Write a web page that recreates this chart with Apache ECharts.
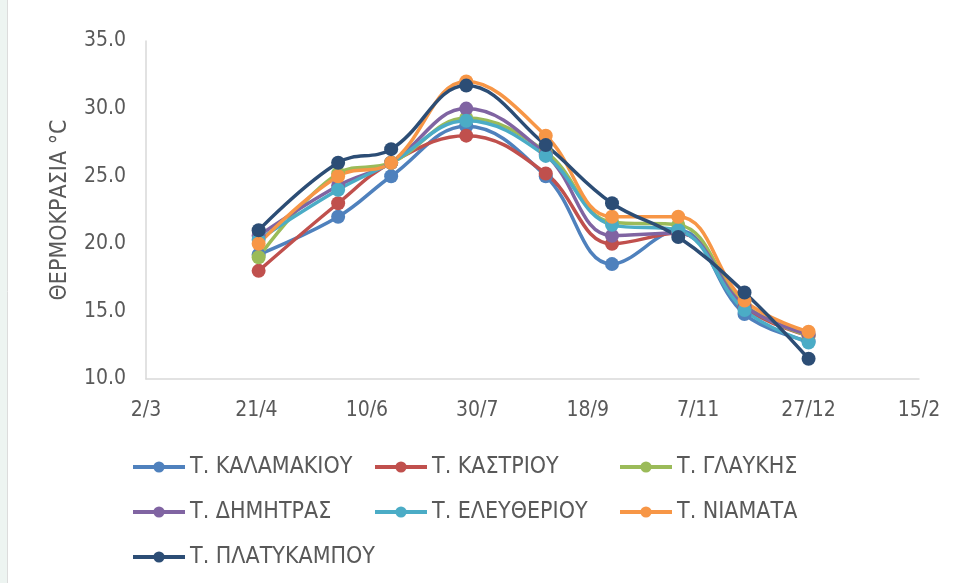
<!DOCTYPE html>
<html>
<head>
<meta charset="utf-8">
<script src="https://cdn.jsdelivr.net/npm/echarts@6/dist/echarts.min.js"></script>
<style>
    html, body { margin: 0; padding: 0; background: #fff; }
    #chart { width: 955px; height: 583px; }
</style>
</head>
<body>
<div id="chart"></div>
<script>
// Chart data
const originDate = '2019-03-02';
const sampleDates = ['2019-04-22', '2019-05-28', '2019-06-21', '2019-07-25', '2019-08-30',
    '2019-09-29', '2019-10-29', '2019-11-28', '2019-12-27'];
const tickLabels = ['2/3', '21/4', '10/6', '30/7', '18/9', '7/11', '27/12', '15/2'];

const seriesNames = ['Τ. ΚΑΛΑΜΑΚΙΟΥ', 'Τ. ΚΑΣΤΡΙΟΥ', 'Τ. ΓΛΑΥΚΗΣ', 'Τ. ΔΗΜΗΤΡΑΣ',
    'Τ. ΕΛΕΥΘΕΡΙΟΥ', 'Τ. ΝΙΑΜΑΤΑ', 'Τ. ΠΛΑΤΥΚΑΜΠΟΥ'];
const kalamakiou = [19.2, 22.0, 25.0, 28.7, 25.0, 18.5, 21.0, 14.8, 12.8];
const kastriou = [18.0, 23.0, 26.0, 28.0, 25.2, 20.0, 20.8, 15.3, 13.2];
const glaykis = [19.0, 25.2, 26.0, 29.3, 26.8, 21.6, 21.4, 15.5, 13.2];
const dimitras = [20.6, 24.3, 26.0, 30.0, 26.6, 20.6, 20.8, 15.4, 13.3];
const eleytheriou = [20.3, 24.0, 26.0, 29.1, 26.5, 21.4, 21.0, 15.1, 12.7];
const niamata = [20.0, 25.0, 26.0, 32.0, 28.0, 22.0, 22.0, 15.8, 13.5];
const platykampou = [21.0, 26.0, 27.0, 31.7, 27.3, 23.0, 20.5, 16.4, 11.5];

const colors = ['#4F81BD', '#C0504D', '#9BBB59', '#8064A2', '#4BACC6', '#F79646', '#2C4D75'];
const font = '"Liberation Sans Narrow", "DejaVu Sans Condensed", sans-serif';

// days since origin, used as the x value
const dayMs = 24 * 3600 * 1000;
const xDays = sampleDates.map(d => Math.round((Date.parse(d) - Date.parse(originDate)) / dayMs));

const allValues = [kalamakiou, kastriou, glaykis, dimitras, eleytheriou, niamata, platykampou];

const chart = echarts.init(document.getElementById('chart'));

// one vertical legend per column, like the 3-column excel legend
const legendColumn = (left, names) => ({
    orient: 'vertical',
    left: left,
    top: 450,
    itemWidth: 52,
    itemHeight: 14,
    itemGap: 21,
    lineStyle: { width: 4 },
    textStyle: { fontFamily: font, fontSize: 23, lineHeight: 24, color: '#595959' },
    data: names
});

const option = {
    backgroundColor: '#fff',
    animation: false,
    grid: { left: 146, right: 36, top: 41, bottom: 204 },
    graphic: [
        { type: 'rect', left: 0, top: 0, shape: { width: 7, height: 583 }, style: { fill: '#edf4f1' } },
        { type: 'line', shape: { x1: 7.5, y1: 0, x2: 7.5, y2: 583 }, style: { stroke: '#dcdcdc', lineWidth: 1 } }
    ],
    legend: [
        legendColumn(126, [seriesNames[0], seriesNames[3], seriesNames[6]]),
        legendColumn(368, [seriesNames[1], seriesNames[4]]),
        legendColumn(613, [seriesNames[2], seriesNames[5]])
    ],
    xAxis: {
        type: 'value',
        min: 0,
        max: 350,
        interval: 50,
        axisLine: { lineStyle: { color: '#D9D9D9', width: 1.5 } },
        axisTick: { show: false },
        splitLine: { show: false },
        axisLabel: {
            margin: 21,
            fontFamily: font,
            fontSize: 21,
            color: '#595959',
            formatter: v => tickLabels[Math.round(v / 50)]
        }
    },
    yAxis: {
        type: 'value',
        min: 10,
        max: 35,
        interval: 5,
        name: 'ΘΕΡΜΟΚΡΑΣΙΑ °C',
        nameLocation: 'middle',
        nameGap: 74,
        nameTextStyle: { fontFamily: font, fontSize: 23, color: '#595959' },
        axisLine: { show: true, lineStyle: { color: '#D9D9D9', width: 1.5 } },
        axisTick: { show: false },
        splitLine: { show: false },
        axisLabel: {
            margin: 20,
            fontFamily: font,
            fontSize: 21,
            color: '#595959',
            formatter: v => v.toFixed(1)
        }
    },
    series: seriesNames.map((name, i) => ({
        name: name,
        type: 'line',
        smooth: 0.4,
        symbol: 'circle',
        symbolSize: 14,
        color: colors[i],
        lineStyle: { width: 3.5, color: colors[i] },
        itemStyle: { color: colors[i] },
        data: xDays.map((x, k) => [x, allValues[i][k]])
    }))
};

chart.setOption(option);
</script>
</body>
</html>
